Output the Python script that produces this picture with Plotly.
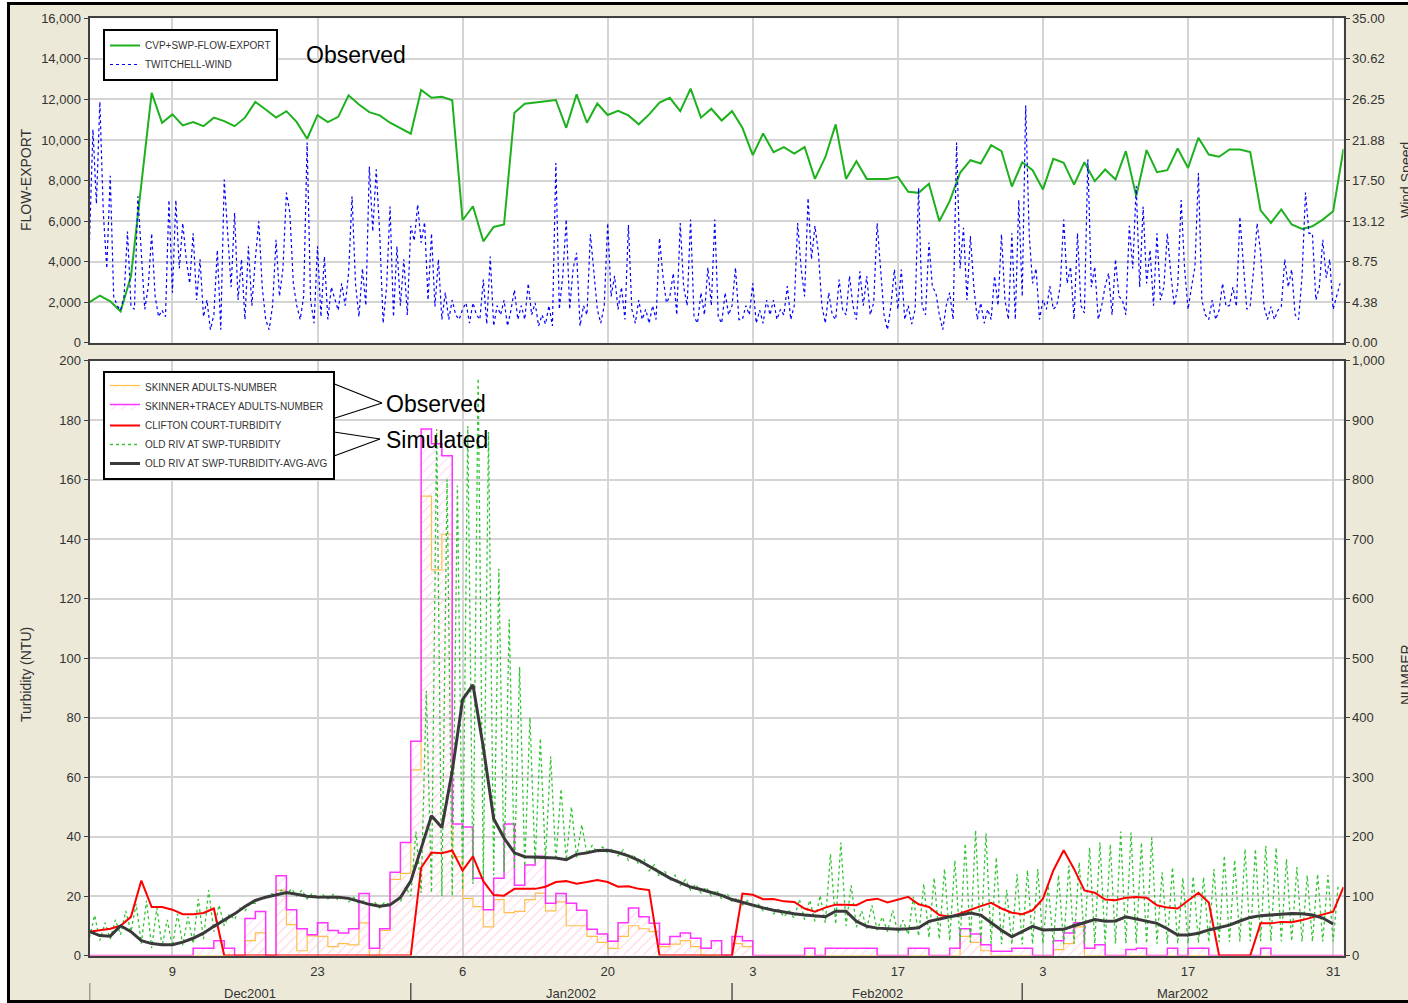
import pandas as pd
import plotly.graph_objects as go

W, H = 1408, 1003

# ---- data (day 0 = 1 Dec 2001) ----
flow_export = [
    2000, 2320, 2040, 1550, 3270, 7800, 12330, 10850, 11260, 10720,
    10880, 10680, 11100, 10930, 10680, 11100, 11870, 11500, 11100, 11420,
    10880, 10060, 11220, 10880, 11140, 12200, 11750, 11370, 11210, 10850,
    None, 10310, 12460, 12080, 12130, 11960, 6040, 6730, 5000, 5710,
    5830, 11340, 11790, None, None, 11970, 10600, 12250, 10850, 11800,
    11230, 11440, 11210, 10770, 11260, 11840, 12080, 11420, 12530, 11100,
    11540, 10960, 11420, 10600, 9250, 10320, 9400, 9650, 9330, 9650,
    8080, 9150, 10770, 8080, 8950, 8080, 8080, 8080, 8180, 7440,
    7390, 7840, 5990, 6980, 8380, 9000, 8840, 9740, 9450, 7700,
    8900, 8510, 7560, 9070, 8870, 7800, 8900, 7970, 8540, 8050,
    9450, 7230, 9500, 8410, 8510, 9580, 8620, 10110, 9280, 9170,
    9530, 9530, 9400, 6530, 5910, 6570, 5830, 5610, 5740, 6070,
    6480, 9560,
]

# wind speed, three readings per day
wind_speed = [
    11, 23, 15,   26, 14, 8,    18, 5, 4,     3.5, 5, 12,   4, 3.6, 15.8,
    9.7, 3.6, 6,  11.8, 5, 2.8, 3.5, 2.8, 15.4, 5.4, 15.4, 8, 12.9, 9, 6.4,
    11.8, 4.6, 9, 2.8, 4.6, 1.4, 3, 10, 1.4,  17.6, 11.8, 6, 14, 4.6, 9,
    2.5, 10.4, 4, 9, 13.1, 6,   2.5, 1.4, 4,  11.1, 5, 8,   16.2, 14, 6.4,
    4, 2.5, 5,    21.6, 4.6, 2.1, 10.4, 2.8, 9.3, 2.5, 6, 4.6, 3.5, 6.4, 4,
    7.5, 15.8, 6.4, 2.8, 8, 4,  19, 12, 18.7, 11.8, 2.1, 6, 14.7, 2.8, 10.4,
    4, 9, 3,      12.6, 11, 14.9, 10.8, 13, 4.6, 11.8, 3.9, 9, 2.5, 5.4, 2.5,
    4.6, 3, 2.5,  3.6, 4.3, 2.1, 4.3, 3, 2.5,  6.8, 2, 9.3,  1.8, 4, 3,
    4.6, 1.8, 3.5, 5.7, 2.5, 4, 2.5, 6.4, 3,  4.3, 1.8, 3,  2, 4, 1.8,
    19.4, 3.6, 7.2, 13.3, 3.6, 8, 9.7, 1.8, 4, 3, 11.7, 7.9, 3.6, 2.1, 4,
    12.9, 5, 7.2, 3.6, 6, 2.5,  12.7, 3.6, 2.1, 4.6, 2.5, 3.6, 2.1, 4, 2.5,
    11.3, 7.2, 4.3, 5, 7.5, 3,  12.9, 6, 4,   13.3, 2.8, 2.1, 5.4, 3, 8.1,
    4, 13.3, 2.8, 2.1, 5.4, 3,  4, 8.1, 2.5,  2.5, 4, 3,    6.4, 2.1, 3.5,
    2.1, 4.6, 3,  4.6, 2.5, 3.6, 3, 6.1, 2.5,  4, 12.9, 8,   5, 15.6, 9,
    12.6, 9.7, 4, 2.1, 5.4, 3,  2.5, 6.8, 3.6, 3, 7.2, 4,   2.5, 7.7, 4,
    7.2, 3, 4.3,  12.9, 7.9, 3, 1.4, 4, 7.9,  3.6, 7.9, 2.5, 4, 2, 3.6,
    16.7, 4, 3,   10.8, 6, 5.4, 3, 1.4, 4,    5.4, 2.5, 21.6, 8, 12.4, 4.6,
    11.5, 6, 2.5, 4.3, 2.1, 3.6, 2.5, 7.2, 4, 11.7, 4.6, 2.5, 11.8, 2.5, 15.4,
    5, 25.6, 11.8, 6.4, 8, 2.5, 4.6, 3.6, 6.1, 3.6, 4, 6.1, 13.3, 6.4, 8.2,
    2.5, 11.8, 4, 3.2, 19.8, 6, 8.2, 2.5, 4,  6.1, 7.5, 3,  9, 5, 4.6,
    3, 12.6, 8,   16.9, 6, 14.7, 6.4, 10, 4,  11.8, 4.6, 6, 11.8, 7.5, 4,
    6, 15.4, 8,   3.6, 6, 8.2,  18.3, 4.6, 3, 2.5, 4.6, 2.5, 3.5, 6.4, 3.9,
    4, 6, 3.9,    13.6, 8.2, 3.6, 4, 8, 12.9, 9.7, 3.9, 2.5, 3.9, 2.5, 3.5,
    3.9, 9, 6,    7.9, 3, 2.5,  7.2, 16.2, 11.8, 11.8, 4.6, 6, 11.1, 7, 9,
    3.6, 5, 6.4,
]

wind_tick_vals = [0, 4.375, 8.75, 13.125, 17.5, 21.875, 26.25, 30.625, 35]
wind_tick_text = ["0.00", "4.38", "8.75", "13.12", "17.50", "21.88", "26.25", "30.62", "35.00"]

# OLD RIV AT SWP-TURBIDITY: daily trough and peak
turb_low = [
    6, 5, 5.5, 7, 8, 4, 2.5, 3, 3, 3.5, 4, 5.5, 8, 10, 12, 15, 17.5, 19, 20, 20.5,
    20, 19, 19, 19, 18.5, 18, 17.5, 16.5, 16, 17, 18, 20, 21, 21, 20, 20, 22, 24, 26, 27,
    28, 29, 30, 31, 32, 32, 32, 33, 34, 34.5, 34.5, 33.5, 32, 30.5, 28.5, 26.5, 25, 23.5, 22, 21,
    20, 19, 18, 17, 16, 15, 14, 13, 12.5, 12, 11.5, 11, 10.5, 10, 9.5, 9, 8.5, 8, 7.5, 7,
    6.5, 6, 5.5, 5, 4.8, 4.5, 4.2, 4, 3.8, 3.7, 3.7, 3.8, 4, 4, 4, 4, 4, 4, 4, 4,
    4, 4, 4, 4, 4, 4, 4, 4.2, 4.4, 4.5, 4.6, 4.7, 4.8, 4.8, 4.8, 4.8, 4.8, 4.7, 4.7, 4.7,
    4.7,
]
turb_high = [
    13.5, 11, 12, 15, 17.4, 18.5, 16, 12, 14, 13, 19, 22, 17, 14, 16, 17.5, 19.5, 21, 22, 22.5,
    22, 21, 20.5, 20.5, 20, 19.5, 18.5, 18, 18, 19, 23, 41.7, 89, 177, 160, 158, 178, 194, 176, 130,
    113, 97, 80, 73, 67, 56, 50, 44, 37, 36.5, 36, 35.5, 34, 32.5, 30.5, 28.5, 27, 25.5, 24, 23,
    22, 21, 19.5, 18.5, 17.5, 16.5, 15.5, 15, 18.9, 18.6, 20.2, 34.1, 38, 23.6, 15, 16.9, 13, 15.2, 11.9, 19.7,
    24.1, 26.1, 29.1, 31.9, 37.7, 42.1, 41.1, 33, 22.1, 27.4, 28.6, 29.1, 23.6, 27, 30.2, 31.3, 36.3, 38, 37.4, 41.7,
    41.3, 38, 39.7, 28, 29.7, 26.1, 26.6, 26.3, 29.1, 33.6, 32.1, 35.8, 35.8, 36.9, 36.3, 32.4, 29.7, 26.9, 27.4, 27,
    24,
]

# OLD RIV AT SWP-TURBIDITY-AVG-AVG
turb_avg = [
    8, 6.7, 6.5, 10, 8, 5, 4, 3.6, 3.6, 4.5, 5.8, 7.5, 9.8, 12, 14, 16.5, 18.5, 19.6, 20.4, 21.2,
    20.6, 19.9, 19.7, 19.7, 19.6, 19.2, 18.3, 17.2, 16.6, 17, 19.5, 25, 36, 47, 43, 62, 86, 91, 70, 46,
    39.5, 34.5, 33.2, 33, 33, 32.8, 32.2, 34, 34.5, 35.3, 35.4, 34.6, 33.5, 32, 30, 28, 26, 24.5, 23, 22.2,
    21.2, 20.2, 18.8, 17.8, 16.9, 16, 15.2, 14.5, 14, 13.6, 13.2, 13, 14.9, 14.9, 11.5, 9.8, 9.2, 8.9, 8.8, 9,
    9.3, 11.5, 12.3, 13, 13.6, 14.3, 13.6, 11, 8.5, 6.3, 8, 9.8, 8.6, 8.7, 8.8, 10, 11, 12.1, 11.5, 11.6,
    13, 12.2, 11.5, 10.8, 9, 6.9, 6.9, 7.5, 8.6, 9.4, 10.2, 11.6, 12.8, 13.4, 13.7, 13.9, 14.1, 14, 13.6, 12.6,
    10.6,
]

# CLIFTON COURT-TURBIDITY
clifton_turb = [
    8, 8.5, 9, 10, 13, 25.2, 16.3, 16.3, 15.4, 13.9, 13.9, 14.3, 15.8, 0, 0, 0, 0, 0, 0, 0,
    0, 0, 0, 0, 0, 0, 0, 0, 0, 0, 0, 0, 29.5, 34.6, 34.4, 35.3, 28.5, 33.3, 25, 20.3,
    20.1, 22.4, 22.4, 22.4, 23.1, 24.7, 25, 24.1, 24.7, 25.4, 24.7, 23.1, 23.3, 22.4, 22, 0, 0, 0, 0, 0,
    0, 0, 0, 20.8, 20.4, 18.9, 19, 18.2, 18, 15.8, 14.7, 16.1, 17.1, 17.1, 16.9, 18.6, 19.1, 17.8, 18.8, 19.7,
    17.2, 16.3, 13.6, 13, 14.1, 15.4, 16.6, 17.7, 15.8, 14.4, 13.9, 15.2, 19.1, 28.6, 35.4, 29.1, 21.9, 21.1, 18.8, 18.6,
    19.4, 19.7, 19.4, 16.9, 16.1, 15.8, 18.6, 21.1, 17.8, 0, 0, 0, 0, 10.8, 10.8, 11.3, 11.2, 11.9, 12.8, 13.6,
    14.7, 23,
]

# daily fish counts (NUMBER axis)
skinner_tracey_num = [0] * 10 + [
    12, 12, 25, 12, 0, 62, 74, 0, 134, 77, 45, 35, 55, 42, 38, 45, 104, 12, 45, 140,
    190, 360, 885, 860, 840, 221, 216, 130, 77, 130, 221, 118, 152, 167, 88, 104, 88, 76, 44, 36,
    24, 55, 80, 65, 54, 19, 32, 38, 29, 12, 25, 0, 32, 25, 0, 0, 0, 0, 0, 12,
    0, 12, 12, 12, 12, 12, 0, 0, 0, 12, 12, 0, 0, 12, 45, 36, 18, 7, 7, 12,
    12, 0, 0, 25, 38, 55, 12, 18, 0, 0, 10, 12, 0, 0, 12, 0, 12, 12, 0, 0,
    0, 0, 0, 12, 0, 0, 0, 0, 0, 0, 0,
]
skinner_num = [0] * 15 + [
    25, 38, 0, 110, 52, 8, 33, 32, 15, 20, 18, 55, 0, 42, 128, 138, 312, 772, 648, 708,
    166, 96, 82, 48, 94, 72, 74, 94, 105, 75, 90, 50, 50, 32, 22, 12, 32, 50, 45, 40,
    15, 19, 25, 15, 0, 0, 0, 20, 15,
] + [0] * 20 + [32, 22, 8, 0, 0, 0, 0, 0, 0, 10, 20, 48] + [0] * 25

month_labels = ["Dec2001", "Jan2002", "Feb2002", "Mar2002"]

# ---- x values ----
days = pd.date_range("2001-12-01", "2002-04-01", freq="D")
wind_x = pd.date_range("2001-12-01", periods=len(wind_speed), freq="8h")
turb_x, turb_y = [], []
for d, lo, hi in zip(days, turb_low, turb_high):
    turb_x += [d, d + pd.Timedelta(hours=12)]
    turb_y += [lo, hi]


def px(x):
    return x / W


def py(y):
    return 1 - y / H


fig = go.Figure()

# top panel
fig.add_trace(go.Scatter(
    x=days, y=flow_export, mode="lines", connectgaps=True,
    name="CVP+SWP-FLOW-EXPORT", line=dict(color="#1DB11D", width=2),
    xaxis="x", yaxis="y", legend="legend",
))
fig.add_trace(go.Scatter(
    x=wind_x, y=wind_speed, mode="lines",
    name="TWITCHELL-WIND", line=dict(color="#0000FF", width=1.2, dash="dot"),
    xaxis="x", yaxis="y2", legend="legend",
))

# bottom panel
fig.add_trace(go.Scatter(
    x=days, y=skinner_num + [skinner_num[-1]], mode="lines", line_shape="hv",
    name="SKINNER ADULTS-NUMBER", line=dict(color="#FFC040", width=1.2),
    fill="tozeroy", fillcolor="rgba(0,0,0,0)",
    fillpattern=dict(shape="/", fgcolor="#FFD890", bgcolor="rgba(0,0,0,0)", size=7, solidity=0.12),
    xaxis="x2", yaxis="y3", legend="legend2", legendrank=1,
))
fig.add_trace(go.Scatter(
    x=days, y=skinner_tracey_num + [skinner_tracey_num[-1]], mode="lines", line_shape="hv",
    name="SKINNER+TRACEY ADULTS-NUMBER", line=dict(color="#FF33FF", width=1.5),
    fill="tozeroy", fillcolor="rgba(0,0,0,0)",
    fillpattern=dict(shape="/", fgcolor="#FFB0E6", bgcolor="rgba(0,0,0,0)", size=7, solidity=0.15),
    xaxis="x2", yaxis="y3", legend="legend2", legendrank=2,
))
fig.add_trace(go.Scatter(
    x=turb_x, y=turb_y, mode="lines",
    name="OLD RIV AT SWP-TURBIDITY", line=dict(color="#33C433", width=1.3, dash="dot"),
    xaxis="x2", yaxis="y4", legend="legend2", legendrank=4,
))
fig.add_trace(go.Scatter(
    x=days, y=clifton_turb, mode="lines",
    name="CLIFTON COURT-TURBIDITY", line=dict(color="#FF0000", width=2),
    xaxis="x2", yaxis="y4", legend="legend2", legendrank=3,
))
fig.add_trace(go.Scatter(
    x=days[:len(turb_avg)], y=turb_avg, mode="lines",
    name="OLD RIV AT SWP-TURBIDITY-AVG-AVG", line=dict(color="#3A3A3A", width=3),
    xaxis="x2", yaxis="y4", legend="legend2", legendrank=5,
))

grid = "#D4D4D4"
axis_line = "#404040"
xcommon = dict(
    type="date", range=["2001-12-01", "2002-04-01"],
    tick0="2001-12-09", dtick=14 * 86400000,
    showgrid=True, gridcolor=grid, gridwidth=1.5,
    showline=True, linecolor=axis_line, linewidth=2, mirror=True,
    zeroline=False, domain=[px(89.5), px(1343.5)],
)
ycommon = dict(
    showline=True, linecolor=axis_line, linewidth=2, mirror=True,
    ticks="outside", ticklen=4, tickcolor=axis_line, zeroline=False,
)

fig.update_layout(
    width=W, height=H, margin=dict(l=0, r=0, t=0, b=0, autoexpand=False),
    paper_bgcolor="#ECE9D8", plot_bgcolor="white",
    font=dict(family="Liberation Sans", size=13, color="#333333"),
    hovermode=False,
    xaxis=dict(xcommon, anchor="y", showticklabels=False, matches="x2"),
    yaxis=dict(ycommon, domain=[py(342.7), py(18.3)], range=[0, 16000], dtick=2000,
               tickformat=",d", showgrid=True, gridcolor=grid, gridwidth=1.5),
    yaxis2=dict(ycommon, overlaying="y", side="right", anchor="x", range=[0, 35],
                tickvals=wind_tick_vals, ticktext=wind_tick_text, showgrid=False),
    xaxis2=dict(xcommon, anchor="y3", tickformat="%-d", ticks="", ticklabelstandoff=3),
    yaxis3=dict(ycommon, domain=[py(955.5), py(360.5)], side="right", anchor="x2",
                range=[0, 1000], dtick=100, tickformat=",d",
                showgrid=True, gridcolor=grid, gridwidth=1.5),
    yaxis4=dict(ycommon, overlaying="y3", side="left", anchor="x2",
                range=[0, 200], dtick=20, showgrid=False),
    legend=dict(x=px(103), y=py(29), xanchor="left", yanchor="top",
                bgcolor="white", bordercolor="black", borderwidth=2,
                font=dict(size=10, color="#333333")),
    legend2=dict(x=px(103), y=py(371), xanchor="left", yanchor="top",
                 bgcolor="white", bordercolor="black", borderwidth=2,
                 font=dict(size=10, color="#333333"), traceorder="normal"),
)

# axis titles and labels
annotations = [
    dict(text="FLOW-EXPORT", x=px(26), y=py(180), textangle=-90),
    dict(text="Turbidity (NTU)", x=px(26), y=py(675), textangle=-90),
    dict(text="Wind Speed", x=px(1406), y=py(180), textangle=-90),
    dict(text="NUMBER", x=px(1406), y=py(675), textangle=-90),
]
for a in annotations:
    a.update(xref="paper", yref="paper", showarrow=False,
             xanchor="center", yanchor="middle",
             font=dict(size=14, color="#333333"))

big = dict(family="Liberation Sans", size=23, color="black")
for text, x, y in [("Observed", 304, 55), ("Observed", 384, 404), ("Simulated", 384, 440)]:
    annotations.append(dict(text=text, x=px(x), y=py(y), xref="paper", yref="paper",
                            xanchor="left", yanchor="middle", showarrow=False, font=big))

months = pd.date_range("2001-12-01", periods=len(month_labels) + 1, freq="MS")
for label, start, end in zip(month_labels, months[:-1], months[1:]):
    annotations.append(dict(text=label, x=start + (end - start) / 2, y=py(993),
                            xref="x2", yref="paper", showarrow=False,
                            xanchor="center", yanchor="middle",
                            font=dict(size=13, color="#333333")))
fig.update_layout(annotations=annotations)

shapes = []
# month separators
for start in months[:-1]:
    shapes.append(dict(type="line", xref="x2", yref="paper", x0=start, x1=start,
                       y0=py(983), y1=py(1001), line=dict(color="#555555", width=1.5)))
# brackets to the Observed / Simulated notes
for (x0, y0), (x1, y1) in [((332, 383), (382, 403)), ((332, 419), (382, 403)),
                           ((334, 432), (380, 439)), ((334, 456), (380, 439))]:
    shapes.append(dict(type="line", xref="paper", yref="paper",
                       x0=px(x0), y0=py(y0), x1=px(x1), y1=py(y1),
                       line=dict(color="black", width=1.2)))
# outer frame
shapes.append(dict(type="rect", xref="paper", yref="paper", x0=0, x1=px(7), y0=0, y1=1,
                   fillcolor="white", line=dict(width=0), layer="below"))
shapes.append(dict(type="rect", xref="paper", yref="paper", x0=0, x1=1, y0=py(2), y1=1,
                   fillcolor="white", line=dict(width=0), layer="below"))
shapes.append(dict(type="rect", xref="paper", yref="paper", x0=px(8.5), x1=px(1412),
                   y0=py(1001.5), y1=py(3.5), line=dict(color="black", width=3)))
fig.update_layout(shapes=shapes)

fig.write_html("out.html", config={"displayModeBar": False},
               post_script="document.body.style.margin='0';")
